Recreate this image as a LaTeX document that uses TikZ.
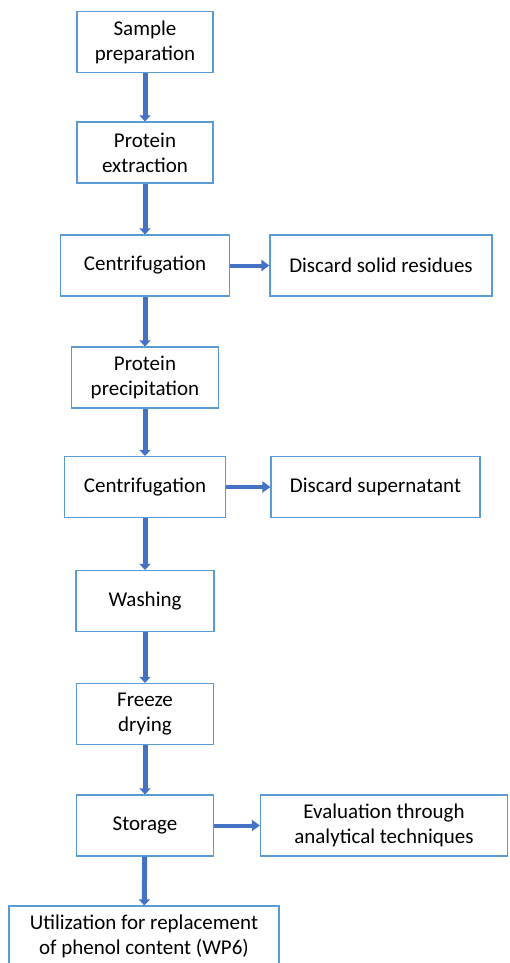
\documentclass[tikz,border=0pt]{standalone}
\usepackage{fontspec}
\setmainfont{Carlito}
\usetikzlibrary{arrows.meta}
\definecolor{boxline}{RGB}{91,155,213}
\definecolor{arrowblue}{RGB}{68,114,196}

\begin{document}
\begin{tikzpicture}[x=1pt,y=-1pt]
\tikzstyle{every node}+=[inner sep=0pt]
\tikzstyle{box}=[draw=boxline, line width=1.2pt, align=center, font=\fontsize{21}{25}\selectfont, minimum height=61pt]
\tikzstyle{down}=[draw=arrowblue, line width=5pt, -{Triangle[length=6pt,width=11pt]}]
\tikzstyle{side}=[draw=arrowblue, line width=4pt, -{Triangle[length=8pt,width=11pt]}]
\useasboundingbox (0,0) rectangle (509,963);
% main column
\node [box, minimum width=136pt] (prep) at (145,42) {Sample\\preparation};
\node [box, minimum width=136pt] (extract) at (145,152.5) {Protein\\extraction};
\node [box, minimum width=169pt] (centrifA) at (145,265.5) {Centrifugation};
\node [box, minimum width=147pt] (precip) at (145,377.5) {Protein\\precipitation};
\node [box, minimum width=161pt] (centrifB) at (145,487) {Centrifugation};
\node [box, minimum width=138pt] (wash) at (145,601) {Washing};
\node [box, minimum width=137pt] (freeze) at (145,714) {Freeze\\drying};
\node [box, minimum width=137pt] (store) at (145,825.5) {Storage};
\node [box, minimum width=270pt, minimum height=60pt] (use) at (144,936) {Utilization for replacement\\of phenol content (WP6)};
% side boxes
\node [box, minimum width=222pt] (residue) at (381,265.5) {Discard solid residues};
\node [box, minimum width=209pt] (super) at (375.5,487) {Discard supernatant};
\node [box, minimum width=247pt] (eval) at (384,825.5) {Evaluation through\\analytical techniques};
% arrows
\draw [down] (prep) -- (extract);
\draw [down] (extract) -- (centrifA);
\draw [down] (centrifA) -- (precip);
\draw [down] (precip) -- (centrifB);
\draw [down] (centrifB) -- (wash);
\draw [down] (wash) -- (freeze);
\draw [down] (freeze) -- (store);
\draw [down] (store) -- (use);
\draw [side] (centrifA) -- (residue);
\draw [side] (centrifB) -- (super);
\draw [side] (store) -- (eval);
\end{tikzpicture}
\end{document}
